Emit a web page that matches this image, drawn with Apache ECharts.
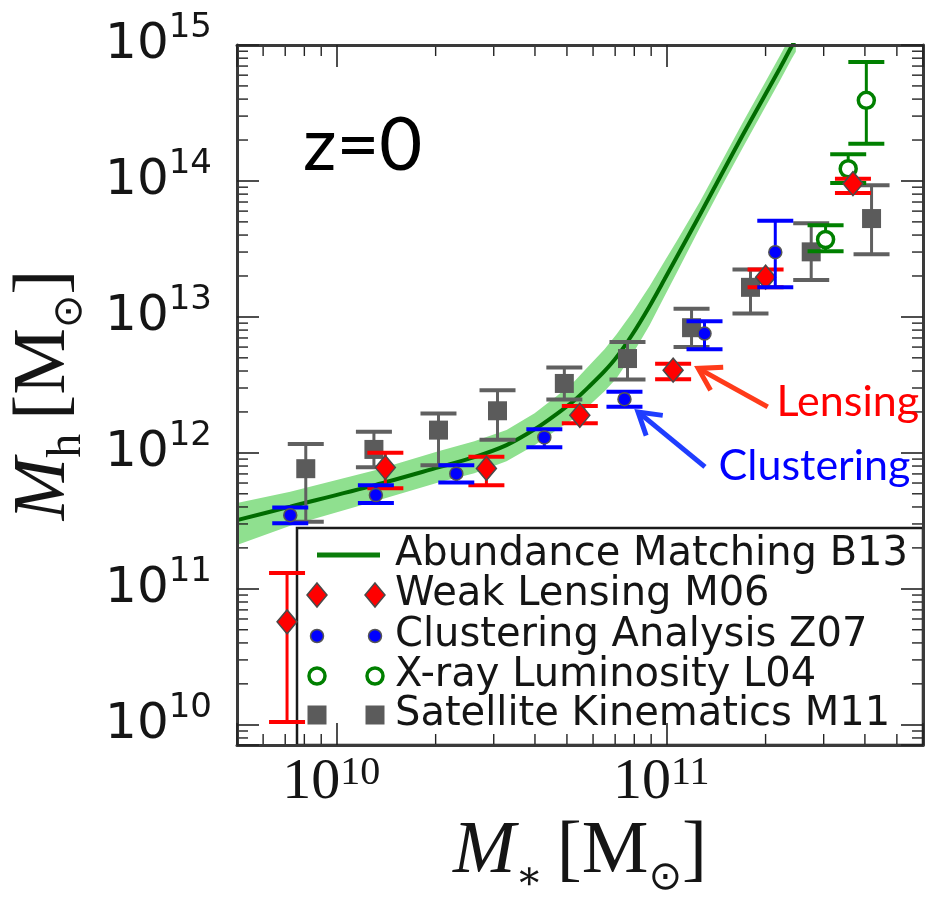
<!DOCTYPE html>
<html>
<head>
<meta charset="utf-8">
<title>Stellar-to-halo mass relation at z=0</title>
<script src="https://cdn.jsdelivr.net/npm/echarts@6.0.0/dist/echarts.min.js"></script>
<style>
  html, body { margin: 0; padding: 0; background: #ffffff; }
  #chart { width: 926px; height: 899px; }
</style>
</head>
<body>
<div id="chart"></div>
<script>
// ---- Abundance matching relation (B13) and its scatter band ----
const amStellarMass = [5.0e9, 7.25e9, 1.31e10, 2.05e10, 2.62e10, 3.28e10, 3.99e10, 4.65e10, 5.27e10, 5.85e10, 6.50e10, 7.07e10, 7.90e10, 8.90e10, 9.88e10, 1.075e11, 1.262e11, 1.482e11, 1.704e11, 1.96e11, 2.21e11, 2.40e11, 2.47e11];
const amHaloMass    = [3.20e11, 4.02e11, 5.79e11, 7.85e11, 9.30e11, 1.14e12, 1.49e12, 1.93e12, 2.44e12, 3.09e12, 3.99e12, 5.06e12, 7.46e12, 1.20e13, 1.89e13, 2.75e13, 5.59e13, 1.16e14, 2.17e14, 3.99e14, 6.74e14, 9.78e14, 1.10e15];
const amHaloUpper   = [4.27e11, 5.18e11, 7.46e11, 1.03e12, 1.22e12, 1.47e12, 1.96e12, 2.61e12, 3.37e12, 4.41e12, 5.79e12, 7.46e12, 1.08e13, 1.68e13, 2.57e13, 3.60e13, 6.97e13, 1.43e14, 2.68e14, 4.93e14, 8.33e14, 1.21e15, 1.36e15];
const amHaloLower   = [2.10e11, 2.91e11, 4.41e11, 6.09e11, 7.09e11, 8.69e11, 1.14e12, 1.47e12, 1.80e12, 2.24e12, 2.84e12, 3.54e12, 5.32e12, 8.69e12, 1.42e13, 2.10e13, 4.49e13, 9.38e13, 1.75e14, 3.23e14, 5.45e14, 7.91e14, 8.91e14];

// ---- Weak lensing (M06) ----
const wlStellarMass = [7.09e9, 1.408e10, 2.85e10, 5.47e10, 1.049e11, 2.00e11, 3.68e11];
const wlHaloMass    = [5.72e10, 7.81e11, 7.68e11, 1.89e12, 4.06e12, 1.96e13, 9.57e13];
const wlHaloLow     = [1.05e10, 5.50e11, 5.79e11, 1.65e12, 3.48e12, 1.65e13, 8.16e13];
const wlHaloHigh    = [1.31e11, 1.00e12, 9.35e11, 2.21e12, 4.53e12, 2.23e13, 1.04e14];

// ---- Clustering analysis (Z07) ----
const clStellarMass = [7.25e9, 1.318e10, 2.31e10, 4.27e10, 7.47e10, 1.306e11, 2.14e11];
const clHaloMass    = [3.48e11, 4.89e11, 7.03e11, 1.30e12, 2.48e12, 7.55e12, 2.99e13];
const clHaloLow     = [3.03e11, 4.27e11, 6.06e11, 1.10e12, 2.18e12, 5.79e12, 1.65e13];
const clHaloHigh    = [3.97e11, 5.79e11, 8.12e11, 1.49e12, 2.81e12, 9.30e12, 5.10e13];

// ---- X-ray luminosity (L04) ----
const xrStellarMass = [3.04e11, 3.56e11, 4.04e11];
const xrHaloMass    = [3.71e13, 1.23e14, 3.92e14];
const xrHaloLow     = [3.04e13, 9.67e13, 1.88e14];
const xrHaloHigh    = [4.72e13, 1.57e14, 7.50e14];

// ---- Satellite kinematics (M11) ----
const skStellarMass = [8.08e9, 1.30e10, 2.04e10, 3.08e10, 4.91e10, 7.63e10, 1.193e11, 1.80e11, 2.75e11, 4.19e11];
const skHaloMass    = [7.65e11, 1.06e12, 1.47e12, 2.04e12, 3.24e12, 4.94e12, 8.33e12, 1.65e13, 3.01e13, 5.29e13];
const skHaloLow     = [3.12e11, 7.85e11, 8.12e11, 1.25e12, 2.47e12, 3.47e12, 6.02e12, 1.06e13, 1.87e13, 2.89e13];
const skHaloHigh    = [1.16e12, 1.43e12, 1.95e12, 2.89e12, 4.25e12, 6.55e12, 1.15e13, 2.23e13, 4.89e13, 9.30e13];

// ---- Tick labels (decade exponents) ----
const xTickExponents = [10, 11];
const yTickExponents = [10, 11, 12, 13, 14, 15];

// ---- Legend entries ----
const legendLabels = ['Abundance Matching B13', 'Weak Lensing M06', 'Clustering Analysis Z07', 'X-ray Luminosity L04', 'Satellite Kinematics M11'];

// ---- Callouts (anchored in data space) ----
const calloutLabels = ['Lensing', 'Clustering'];
const calloutTextAt = [[2.16e11, 2.36e12], [1.441e11, 7.98e11]];
const calloutTail   = [[2.03e11, 2.18e12], [1.31e11, 7.89e11]];
const calloutTip    = [[1.25e11, 4.18e12], [8.21e10, 2.0e12]];

// axis ranges
const X_MIN = 5e9, X_MAX = 6e11, Y_MIN = 7.1e9, Y_MAX = 1e15;

const COLORS = {
  band: '#8fe08f', curve: '#006b00', legendLine: '#0b7d0b',
  red: '#ff0000', blue: '#0000ff', green: '#008000', gray: '#5b5b5b', grayBar: '#606060',
  edge: '#4a4a4a', frame: '#3a3a3a', ink: '#151515',
  redArrow: '#ff3b1a', blueArrow: '#1f3dff'
};

const pairs = (xs, ys) => xs.map((x, i) => [x, ys[i]]);
const errRows = (xs, ys, lo, hi) => xs.map((x, i) => [x, ys[i], lo[i], hi[i]]);

function errorBarRenderer(color, lineWidth, capWidth, capThickness) {
  return function (params, api) {
    const x = api.value(0);
    const top = api.coord([x, api.value(3)]);
    const bot = api.coord([x, api.value(2)]);
    const h = capWidth / 2;
    const barStyle = { stroke: color, lineWidth: lineWidth, fill: null };
    const capStyle = { stroke: color, lineWidth: capThickness, fill: null };
    return {
      type: 'group',
      children: [
        { type: 'line', shape: { x1: top[0], y1: top[1], x2: bot[0], y2: bot[1] }, style: barStyle },
        { type: 'line', shape: { x1: top[0] - h, y1: top[1], x2: top[0] + h, y2: top[1] }, style: capStyle },
        { type: 'line', shape: { x1: bot[0] - h, y1: bot[1], x2: bot[0] + h, y2: bot[1] }, style: capStyle }
      ]
    };
  };
}

function errorSeries(name, rows, color, z) {
  return {
    name: name, type: 'custom', z: z, silent: true, clip: true,
    encode: { x: 0, y: 1 },
    data: rows,
    renderItem: errorBarRenderer(color, 3, 36, 4)
  };
}

// minor ticks at 2..9 x 10^k on a log axis
function minorValues(lo, hi) {
  const out = [];
  for (let k = Math.floor(Math.log10(lo)); k <= Math.ceil(Math.log10(hi)); k++) {
    for (let m = 2; m <= 9; m++) {
      const v = m * Math.pow(10, k);
      if (v > lo * 1.0001 && v < hi * 0.9999) out.push(v);
    }
  }
  return out;
}
const MINOR_LEN = 11;

function decadeLabel(exponents) {
  return function (value) {
    const e = Math.log10(value);
    const k = Math.round(e);
    if (Math.abs(e - k) > 1e-6 || exponents.indexOf(k) < 0) return '';
    return '{b|10}{s|' + k + '}';
  };
}

const titleRich = {
  it: { fontFamily: 'Liberation Serif', fontStyle: 'italic', fontSize: 75, lineHeight: 94, verticalAlign: 'middle', color: COLORS.ink },
  rm: { fontFamily: 'Liberation Serif', fontSize: 75, lineHeight: 94, verticalAlign: 'middle', color: COLORS.ink },
  br: { fontFamily: 'Liberation Serif', fontSize: 75, lineHeight: 94, verticalAlign: 'middle', color: COLORS.ink, padding: [0, 0, 0, 14] },
  sa: { fontFamily: 'DejaVu Serif', fontSize: 40, lineHeight: 40, verticalAlign: 'bottom', color: COLORS.ink },
  sh: { fontFamily: 'Liberation Serif', fontSize: 48, lineHeight: 48, verticalAlign: 'bottom', color: COLORS.ink },
  so: { fontFamily: 'DejaVu Sans', fontSize: 40, lineHeight: 30, verticalAlign: 'bottom', color: COLORS.ink }
};

const axisCommon = {
  type: 'log', logBase: 10,
  z: 10,
  axisLine: { show: true, onZero: false, lineStyle: { color: COLORS.frame, width: 3 } },
  axisTick: { show: true, inside: true, length: 22, lineStyle: { color: '#222', width: 1.6 } },
  splitLine: { show: false },
  minorTick: { show: false },
  minorSplitLine: { show: false }
};

const chart = echarts.init(document.getElementById('chart'), null, { renderer: 'canvas', width: 926, height: 899 });

const legendRowsY = [555, 595, 636, 676, 715];
const legendMarkX = [317, 375];
const legendGraphics = [];
legendGraphics.push({ type: 'rect', z: 3, shape: { x: 297, y: 528, width: 626, height: 217 }, style: { fill: '#ffffff', stroke: '#1a1a1a', lineWidth: 2.5 } });
legendGraphics.push({ type: 'line', z: 3, shape: { x1: 317, y1: legendRowsY[0], x2: 380, y2: legendRowsY[0] }, style: { stroke: COLORS.legendLine, lineWidth: 5 } });
legendMarkX.forEach(function (cx) {
  const yd = legendRowsY[1];
  legendGraphics.push({ type: 'polygon', z: 3, shape: { points: [[cx, yd - 12], [cx + 10, yd], [cx, yd + 12], [cx - 10, yd]] }, style: { fill: COLORS.red, stroke: COLORS.edge, lineWidth: 1.5 } });
  legendGraphics.push({ type: 'circle', z: 3, shape: { cx: cx, cy: legendRowsY[2], r: 6.5 }, style: { fill: COLORS.blue, stroke: '#555', lineWidth: 1.5 } });
  legendGraphics.push({ type: 'circle', z: 3, shape: { cx: cx, cy: legendRowsY[3], r: 8 }, style: { fill: '#ffffff', stroke: COLORS.green, lineWidth: 3.5 } });
  legendGraphics.push({ type: 'rect', z: 3, shape: { x: cx - 9.5, y: legendRowsY[4] - 9.5, width: 19, height: 19 }, style: { fill: COLORS.gray } });
});
legendLabels.forEach(function (label, i) {
  legendGraphics.push({ type: 'text', z: 3, x: 395, y: legendRowsY[i], style: { text: label, fontFamily: 'DejaVu Sans', fontSize: 40, fill: COLORS.ink, align: 'left', verticalAlign: 'middle' } });
});
legendGraphics.push({ type: 'text', z: 3, x: 303, y: 146, style: { text: 'z=0', fontFamily: 'Lato', fontSize: 74, fill: '#000000', align: 'left', verticalAlign: 'middle' } });

const option = {
  animation: false,
  backgroundColor: '#ffffff',
  grid: { left: 237, right: 3, top: 45, bottom: 154, containLabel: false, outerBoundsMode: 'none' },
  xAxis: [
    Object.assign({}, axisCommon, {
      position: 'bottom', min: X_MIN, max: X_MAX,
      name: '{it|M}{sa|∗}{br|[}{rm|M}{so|⊙}{rm|]}',
      nameLocation: 'middle', nameGap: 60, nameMoveOverlap: false,
      nameTextStyle: { rich: titleRich },
      axisLabel: {
        show: true, margin: 8, padding: [0, 10, 0, 0],
        formatter: decadeLabel(xTickExponents),
        rich: {
          b: { fontFamily: 'Liberation Serif', fontSize: 58, lineHeight: 60, verticalAlign: 'middle', color: COLORS.ink },
          s: { fontFamily: 'Liberation Serif', fontSize: 40, lineHeight: 22, verticalAlign: 'top', color: COLORS.ink }
        }
      }
    }),
    Object.assign({}, axisCommon, { position: 'top', min: X_MIN, max: X_MAX, axisLabel: { show: false } })
  ],
  yAxis: [
    Object.assign({}, axisCommon, {
      position: 'left', min: Y_MIN, max: Y_MAX,
      name: '{it|M}{sh|h}{br|[}{rm|M}{so|⊙}{rm|]}',
      nameLocation: 'middle', nameGap: 146, nameMoveOverlap: false,
      nameTextStyle: { rich: titleRich },
      axisLabel: {
        show: true, margin: 25,
        formatter: decadeLabel(yTickExponents),
        rich: {
          b: { fontFamily: 'DejaVu Sans', fontSize: 50, lineHeight: 68, verticalAlign: 'middle', color: COLORS.ink },
          s: { fontFamily: 'DejaVu Sans', fontSize: 34, lineHeight: 22, verticalAlign: 'top', color: COLORS.ink }
        }
      }
    }),
    Object.assign({}, axisCommon, { position: 'right', min: Y_MIN, max: Y_MAX, axisLabel: { show: false } })
  ],
  graphic: { elements: legendGraphics },
  series: [
    {
      name: 'band', type: 'custom', z: 1, silent: true, clip: true,
      encode: { x: 0, y: 1 },
      data: pairs(amStellarMass, amHaloMass),
      renderItem: function (params, api) {
        if (params.dataIndex !== 0) return null;
        const pts = [];
        for (let i = 0; i < amStellarMass.length; i++) pts.push(api.coord([amStellarMass[i], amHaloUpper[i]]));
        for (let i = amStellarMass.length - 1; i >= 0; i--) pts.push(api.coord([amStellarMass[i], amHaloLower[i]]));
        const cs = params.coordSys;
        return {
          type: 'group',
          clipPath: { type: 'rect', shape: { x: cs.x, y: cs.y, width: cs.width, height: cs.height } },
          children: [{ type: 'polygon', shape: { points: pts }, style: { fill: COLORS.band } }]
        };
      }
    },
    {
      name: legendLabels[0], type: 'line', z: 2, silent: true, clip: true,
      data: pairs(amStellarMass, amHaloMass),
      symbol: 'none', smooth: 0.3,
      lineStyle: { color: COLORS.curve, width: 4 }
    },
    errorSeries('sk-err', errRows(skStellarMass, skHaloMass, skHaloLow, skHaloHigh), COLORS.grayBar, 4),
    {
      name: legendLabels[4], type: 'scatter', z: 4, silent: true,
      data: pairs(skStellarMass, skHaloMass),
      symbol: 'rect', symbolSize: 19,
      itemStyle: { color: COLORS.gray, opacity: 1 }
    },
    errorSeries('xr-err', errRows(xrStellarMass, xrHaloMass, xrHaloLow, xrHaloHigh), COLORS.green, 5),
    {
      name: legendLabels[3], type: 'scatter', z: 5, silent: true,
      data: pairs(xrStellarMass, xrHaloMass),
      symbol: 'circle', symbolSize: 16,
      itemStyle: { color: '#ffffff', borderColor: COLORS.green, borderWidth: 3.5, opacity: 1 }
    },
    errorSeries('wl-err', errRows(wlStellarMass, wlHaloMass, wlHaloLow, wlHaloHigh), COLORS.red, 6),
    {
      name: legendLabels[1], type: 'scatter', z: 6, silent: true,
      data: pairs(wlStellarMass, wlHaloMass),
      symbol: 'diamond', symbolSize: [20, 24],
      itemStyle: { color: COLORS.red, borderColor: COLORS.edge, borderWidth: 1.5, opacity: 1 }
    },
    errorSeries('cl-err', errRows(clStellarMass, clHaloMass, clHaloLow, clHaloHigh), COLORS.blue, 7),
    {
      name: legendLabels[2], type: 'scatter', z: 7, silent: true,
      data: pairs(clStellarMass, clHaloMass),
      symbol: 'circle', symbolSize: 13,
      itemStyle: { color: COLORS.blue, borderColor: '#555', borderWidth: 1.5, opacity: 1 }
    },
    {
      name: 'x-minor', type: 'custom', z: 8, silent: true,
      encode: { x: 0, y: 1 },
      data: minorValues(X_MIN, X_MAX).map(v => [v, 1e12]),
      renderItem: function (params, api) {
        const cs = params.coordSys;
        const px = api.coord([api.value(0), api.value(1)])[0];
        const st = { stroke: '#222', lineWidth: 1.4 };
        return { type: 'group', children: [
          { type: 'line', shape: { x1: px, y1: cs.y + cs.height, x2: px, y2: cs.y + cs.height - MINOR_LEN }, style: st },
          { type: 'line', shape: { x1: px, y1: cs.y, x2: px, y2: cs.y + MINOR_LEN }, style: st }
        ] };
      }
    },
    {
      name: 'y-minor', type: 'custom', z: 8, silent: true,
      encode: { x: 0, y: 1 },
      data: minorValues(Y_MIN, Y_MAX).map(v => [1e10, v]),
      renderItem: function (params, api) {
        const cs = params.coordSys;
        const py = api.coord([api.value(0), api.value(1)])[1];
        const st = { stroke: '#222', lineWidth: 1.4 };
        return { type: 'group', children: [
          { type: 'line', shape: { x1: cs.x, y1: py, x2: cs.x + MINOR_LEN, y2: py }, style: st },
          { type: 'line', shape: { x1: cs.x + cs.width, y1: py, x2: cs.x + cs.width - MINOR_LEN, y2: py }, style: st }
        ] };
      }
    },
    {
      name: 'callouts', type: 'custom', z: 9, silent: true,
      encode: { x: 0, y: 1 },
      data: calloutTextAt,
      renderItem: function (params, api) {
        const i = params.dataIndex;
        const textColor = i === 0 ? COLORS.red : COLORS.blue;
        const arrowColor = i === 0 ? COLORS.redArrow : COLORS.blueArrow;
        const tail = api.coord(calloutTail[i]);
        const tip = api.coord(calloutTip[i]);
        const ang = Math.atan2(tail[1] - tip[1], tail[0] - tip[0]);
        const L = 25, spread = 0.55;
        const a1 = [tip[0] + L * Math.cos(ang + spread), tip[1] + L * Math.sin(ang + spread)];
        const a2 = [tip[0] + L * Math.cos(ang - spread), tip[1] + L * Math.sin(ang - spread)];
        const tp = api.coord([api.value(0), api.value(1)]);
        return { type: 'group', children: [
          { type: 'line', shape: { x1: tail[0], y1: tail[1], x2: tip[0], y2: tip[1] }, style: { stroke: arrowColor, lineWidth: 5 } },
          { type: 'polyline', shape: { points: [a1, tip, a2] }, style: { stroke: arrowColor, lineWidth: 5, fill: null } },
          { type: 'text', x: tp[0], y: tp[1], style: { text: calloutLabels[i], fill: textColor, fontFamily: 'Lato', fontSize: 43, align: 'left', verticalAlign: 'middle' } }
        ] };
      }
    }
  ]
};

chart.setOption(option);
</script>
</body>
</html>
